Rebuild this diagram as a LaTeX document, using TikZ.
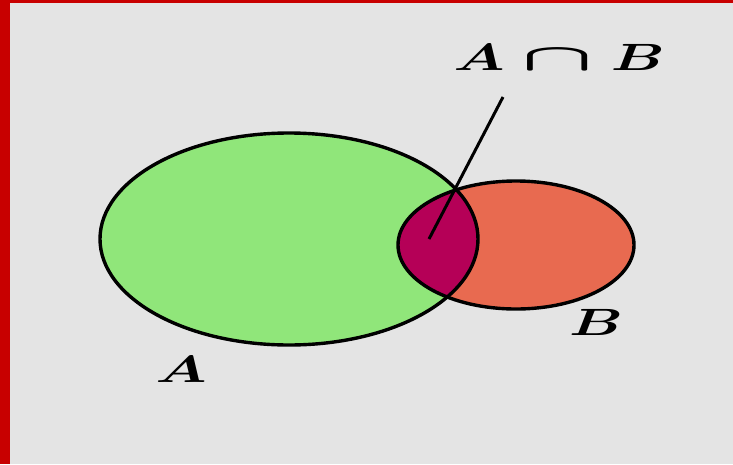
\documentclass[tikz,border=0pt]{standalone}
\usepackage{fix-cm}
\usepackage{graphicx}
\usepackage{bm}
\definecolor{bgray}{RGB}{228,228,228}
\definecolor{bordred}{RGB}{200,0,0}
\definecolor{setA}{RGB}{144,230,122}
\definecolor{setB}{RGB}{232,106,80}
\definecolor{setAB}{RGB}{181,0,87}
\newcommand{\mycapsym}{\scalebox{1.6}[1]{$\bm{\cap}$}}
\tikzset{
  outline/.style={draw=black, line width=3.4pt},
  lblfont/.style={font=\fontsize{38}{40}\selectfont},
  lbl/.style={anchor=base, inner sep=0pt, lblfont, xscale=1.55},
}
\begin{document}
\begin{tikzpicture}[x=1pt,y=-1pt]
\useasboundingbox (0,0) rectangle (733,464);
\fill[bgray] (0,0) rectangle (733,464);
\fill[bordred] (0,0) rectangle (10,464);
\fill[bordred] (0,0) rectangle (733,3);
% sets
\fill[setA] (289,239) ellipse [x radius=189, y radius=106];
\fill[setB] (516,245) ellipse [x radius=118, y radius=64];
\begin{scope}
  \clip (289,239) ellipse [x radius=189, y radius=106];
  \fill[setAB] (516,245) ellipse [x radius=118, y radius=64];
\end{scope}
\draw[outline] (289,239) ellipse [x radius=189, y radius=106];
\draw[outline] (516,245) ellipse [x radius=118, y radius=64];
% pointer
\coordinate (ptop) at (503,97);
\coordinate (pin) at (429,239);
\draw[line width=3pt] (ptop) -- (pin);
% labels
\node[lbl] (labA) at (181,382) {$\bm{A}$};
\node[lbl] (labB) at (596,335) {$\bm{B}$};
\node[lbl] (labAB) at (559,70) {$\bm{A}\hspace{11pt}\mycapsym\hspace{11pt}\bm{B}$};
\end{tikzpicture}
\end{document}
